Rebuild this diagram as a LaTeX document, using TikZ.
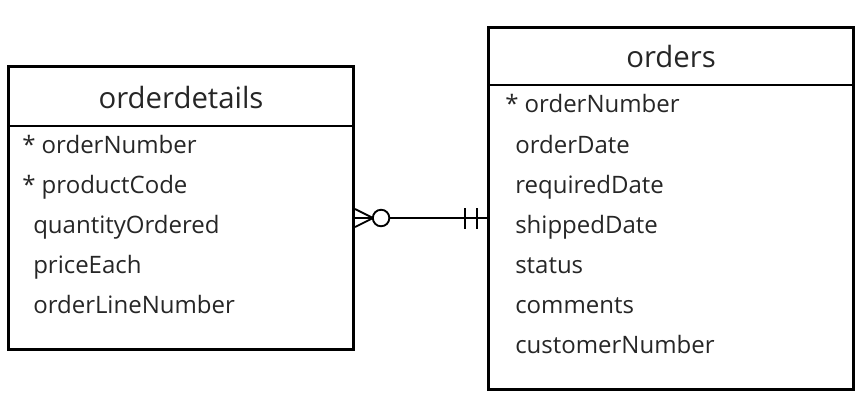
\documentclass[tikz,border=0pt]{standalone}
\usepackage{fontspec}
\setmainfont{Open Sans}
\usetikzlibrary{positioning,calc}
\tikzset{
  entity/.style={draw, line width=2.3pt, anchor=north west, inner sep=0pt},
  divider/.style={line width=2pt},
  etitle/.style={font=\fontsize{22}{26}\selectfont, text=black!85},
  attr/.style={anchor=west, inner sep=0pt, text height=14pt, text depth=3pt,
               font=\fontsize{18}{21}\selectfont, text=black!85},
  rel/.style={line width=1.4pt}
}

\begin{document}
\begin{tikzpicture}[x=0.75pt,y=-0.75pt]
  \useasboundingbox (0,0) rectangle (866,412);
  % entities
  \node[entity, minimum width=258.75pt, minimum height=212.25pt] (od) at (7,65) {};
  \node[entity, minimum width=273.75pt, minimum height=271.5pt] (ord) at (487,26) {};
  \draw[divider] (od.west |- 0,126) -- (od.east |- 0,126);
  \draw[divider] (ord.west |- 0,85) -- (ord.east |- 0,85);
  \node[etitle] (odtitle) at (od.north |- 0,97) {orderdetails};
  \node[etitle] (ordtitle) at (ord.north |- 0,56) {orders};
  % attributes
  \foreach \n/\x/\y/\t in {1/22/146/{* orderNumber}, 2/22/186/{* productCode},
      3/33/226/quantityOrdered, 4/33/266/priceEach, 5/33/306/orderLineNumber}
    \node[attr] (od\n) at (\x,\y) {\t};
  \foreach \n/\x/\y/\t in {1/505/105/{* orderNumber}, 2/515/146/orderDate,
      3/515/186/requiredDate, 4/515/226/shippedDate, 5/515/266/status,
      6/515/306/comments, 7/515/346/customerNumber}
    \node[attr] (ord\n) at (\x,\y) {\t};
  % relationship: many (optional) to one (mandatory)
  \coordinate (odr) at (od.east |- 0,218);
  \coordinate (ordl) at (ord.west |- 0,218);
  \draw[rel] (odr) -- (ordl);
  \draw[rel] ($(odr)+(0,-9)$) -- ($(odr)+(18,0)$) -- ($(odr)+(0,9)$);
  \draw[rel, fill=white] ($(odr)+(26,0)$) circle[radius=6.2pt];
  \draw[rel] ($(ordl)+(-22,-10)$) -- ($(ordl)+(-22,11)$);
  \draw[rel] ($(ordl)+(-10,-10)$) -- ($(ordl)+(-10,11)$);
\end{tikzpicture}
\end{document}
